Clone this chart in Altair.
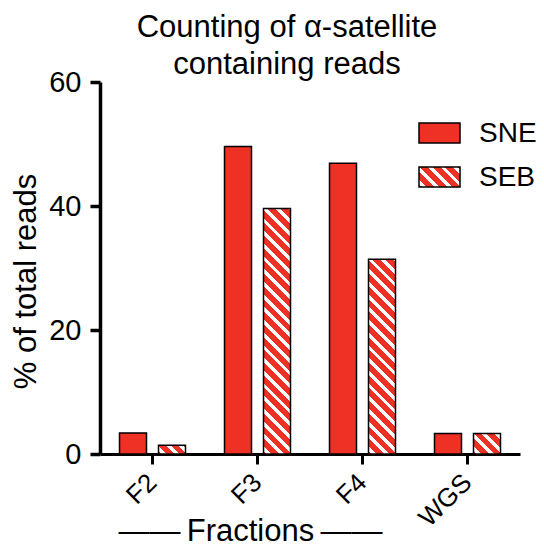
import altair as alt
import pandas as pd

# ---------------- data ----------------
fractions = ["F2", "F3", "F4", "WGS"]
series = ["SNE", "SEB"]
sne_pct = [3.4, 49.6, 46.9, 3.3]
seb_pct = [1.4, 39.6, 31.4, 3.3]
y_ticks = [0, 20, 40, 60]

title_lines = ["Counting of \u03b1-satellite", "containing reads"]
y_title = "% of total reads"
x_title = "\u2014\u2014\u2009Fractions\u2009\u2014\u2014"

# ---------------- style ----------------
RED = "#EE3124"
WHITE = "#FFFFFF"
FONT = "Liberation Sans"
PLOT_W, PLOT_H = 420, 372
Y_MAX = 60
PAD_INNER, PAD_OUTER = 0.3077, 0.5

rows = []
for f, a, b in zip(fractions, sne_pct, seb_pct):
    rows.append({"fraction": f, "series": "SNE", "pct": a})
    rows.append({"fraction": f, "series": "SEB", "pct": b})
df = pd.DataFrame(rows)

step = (PLOT_W / len(fractions)) / (len(series) - PAD_INNER + 2 * PAD_OUTER)
bar_w = step * (1 - PAD_INNER)
px_per_unit = PLOT_H / Y_MAX


def stripe_gradient(w, h, period=12.7, white_frac=0.38, phase=3.0):
    """Diagonal red/white hatching as a linear gradient in a w x h bounding box."""
    total = w + h
    stops = [(0.0, RED)]
    s = phase - period
    while s < total:
        a, b = max(s, 0.0), min(s + white_frac * period, total)
        if b > a:
            stops += [(a / total, RED), (a / total, WHITE), (b / total, WHITE), (b / total, RED)]
        s += period
    stops.append((1.0, RED))
    k = total / (w * w + h * h)
    return alt.LinearGradient(
        gradient="linear",
        stops=[alt.GradientStop(offset=o, color=c) for o, c in stops],
        x1=0, y1=1, x2=k * w, y2=1 - k * h,
    )


x_enc = alt.X(
    "fraction:N", sort=fractions,
    scale=alt.Scale(domain=fractions, paddingInner=0, paddingOuter=0),
    axis=alt.Axis(
        labelAngle=-45, labelAlign="right", labelBaseline="middle",
        labelFont=FONT, labelFontSize=26, labelColor="black", labelPadding=14,
        tickSize=10, tickWidth=3, tickColor="black",
        domainWidth=3, domainColor="black", grid=False,
        title=x_title, titleFont=FONT, titleFontSize=31, titleFontWeight="normal",
        titleColor="black", titleX=150, titleY=86, titleAlign="center",
        titleBaseline="alphabetic",
    ),
)
xo_enc = alt.XOffset(
    "series:N", sort=series,
    scale=alt.Scale(domain=series, paddingInner=PAD_INNER, paddingOuter=PAD_OUTER),
)
y_enc = alt.Y(
    "pct:Q",
    scale=alt.Scale(domain=[0, Y_MAX], nice=False),
    axis=alt.Axis(
        values=y_ticks, labelFont=FONT, labelFontSize=29, labelColor="black",
        labelPadding=9, tickSize=10, tickWidth=3.5, tickColor="black",
        domainWidth=3.5, domainColor="black", grid=False,
        title=y_title, titleFont=FONT, titleFontSize=31, titleFontWeight="normal",
        titleColor="black", titleX=-65, titleY=199, titleAngle=270,
        titleAlign="center", titleBaseline="alphabetic",
    ),
)

base = alt.Chart(df).encode(x=x_enc, xOffset=xo_enc, y=y_enc)

# SNE bars: solid red
layers = [
    base.transform_filter(alt.datum.series == "SNE").mark_bar(
        fill=RED, stroke="black", strokeWidth=1.5
    )
]
# SEB bars: hatched fill, one gradient per bar so the stripes stay at 45 degrees
for f, v in zip(fractions, seb_pct):
    layers.append(
        base.transform_filter((alt.datum.series == "SEB") & (alt.datum.fraction == f))
        .mark_bar(fill=stripe_gradient(bar_w, v * px_per_unit), stroke="black", strokeWidth=1.5)
    )

# ---------------- legend (swatch + label per series) ----------------
LEG_X, LEG_Y0, LEG_ROW = 319, 41, 44
LEG_W, LEG_H = 41, 20
LABEL_GAP = 19
swatch_fills = [RED, stripe_gradient(LEG_W, LEG_H)]
legend_df = pd.DataFrame({"series": series})
for i, (name, fill) in enumerate(zip(series, swatch_fills)):
    top = LEG_Y0 + i * LEG_ROW
    entry = alt.Chart(legend_df).transform_filter(alt.datum.series == name)
    layers.append(
        entry.mark_rect(fill=fill, stroke="black", strokeWidth=1.5).encode(
            x=alt.value(LEG_X), x2=alt.value(LEG_X + LEG_W),
            y=alt.value(top), y2=alt.value(top + LEG_H),
        )
    )
    layers.append(
        entry.mark_text(
            font=FONT, fontSize=28, color="black", align="left", baseline="middle"
        ).encode(
            text="series:N",
            x=alt.value(LEG_X + LEG_W + LABEL_GAP),
            y=alt.value(top + LEG_H / 2 + 1),
        )
    )

chart = alt.layer(*layers).properties(
    width=PLOT_W, height=PLOT_H,
    title=alt.TitleParams(
        text=title_lines, font=FONT, fontSize=31, fontWeight="normal",
        color="black", anchor="middle", frame="group", dx=-23, dy=17, lineHeight=37,
    ),
    autosize=alt.AutoSizeParams(type="none"),
    padding={"left": 100, "top": 82, "right": 24, "bottom": 94},
).configure_view(stroke=None)

chart.save("out.html", embed_options={"renderer": "svg", "actions": False})
